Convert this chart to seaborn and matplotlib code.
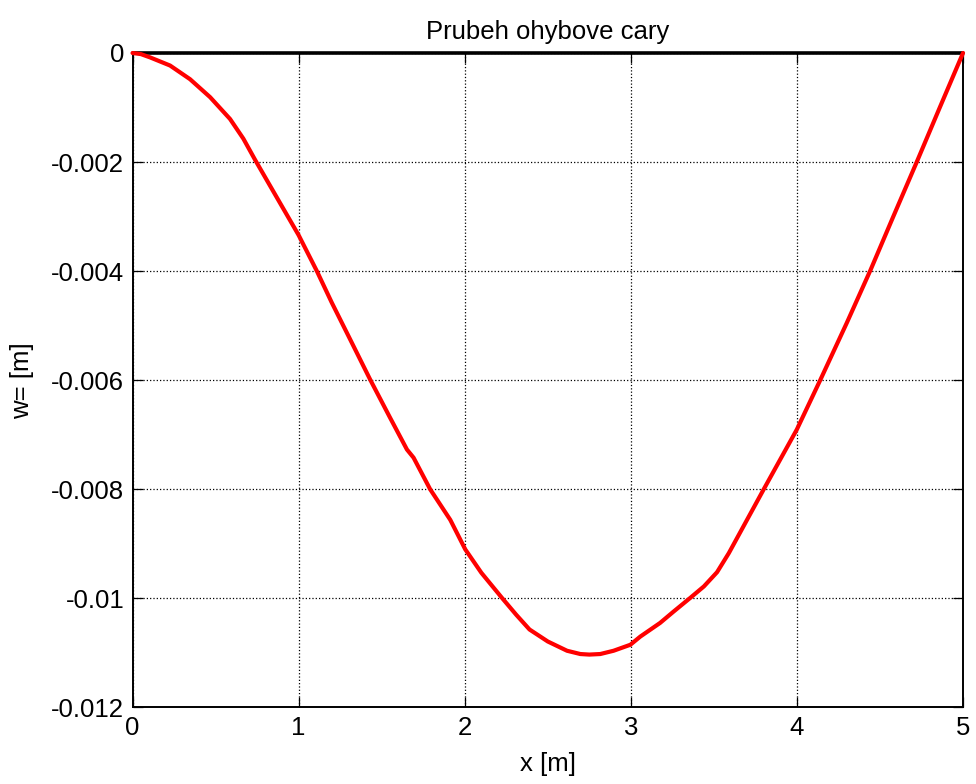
import matplotlib
matplotlib.use("Agg")
import matplotlib.pyplot as plt
import seaborn as sns
import pandas as pd

# Data
x_m = [0.0, 0.05, 0.105, 0.226, 0.346, 0.467, 0.587, 0.667, 0.738, 0.848, 1.0,
       1.11, 1.2, 1.31, 1.431, 1.551, 1.652, 1.692, 1.792, 1.913, 2.003, 2.1,
       2.224, 2.31, 2.39, 2.5, 2.616, 2.696, 2.75, 2.816, 2.896, 2.997, 3.057,
       3.176, 3.258, 3.358, 3.44, 3.519, 3.59, 3.66, 3.8, 3.9, 4.0, 4.14, 4.3,
       4.443, 4.58, 4.724, 4.86, 5.0]
w_m = [0.0, -0.00002, -0.00008, -0.00023, -0.00048, -0.00081, -0.00121, -0.00157,
       -0.00196, -0.00254, -0.00334, -0.0040, -0.00458, -0.00525, -0.00599,
       -0.00669, -0.00727, -0.00742, -0.0080, -0.00856, -0.00910, -0.00953,
       -0.00999, -0.01030, -0.01057, -0.01079, -0.01096, -0.01102, -0.01103,
       -0.01102, -0.01096, -0.01085, -0.01070, -0.01045, -0.01024, -0.00999,
       -0.00978, -0.00952, -0.00917, -0.00878, -0.0080, -0.00745, -0.0069,
       -0.0060, -0.00495, -0.00398, -0.0030, -0.00198, -0.0010, 0.0]
beam_x = [0.0, 5.0]
beam_w = [0.0, 0.0]

x_ticks = [0, 1, 2, 3, 4, 5]
y_ticks = [-0.012, -0.01, -0.008, -0.006, -0.004, -0.002, 0]
y_tick_labels = ["-0.012", "-0.01", "-0.008", "-0.006", "-0.004", "-0.002", "0"]

sns.set_style("white")
plt.rcParams['font.family'] = ['Liberation Sans', 'DejaVu Sans']

df = pd.DataFrame({"x": x_m, "w": w_m})
beam = pd.DataFrame({"x": beam_x, "w": beam_w})

fig = plt.figure(figsize=(9.76, 7.84), dpi=100)
ax = fig.add_axes([0.1358, 0.0976, 0.8509, 0.8348])

sns.lineplot(data=beam, x="x", y="w", ax=ax, color="black", linewidth=2.6,
             clip_on=False, zorder=4)
sns.lineplot(data=df, x="x", y="w", ax=ax, color="#ff0000", linewidth=3,
             clip_on=False, zorder=5)

ax.set_xlim(0, 5)
ax.set_ylim(-0.012, 0)
ax.set_xticks(x_ticks)
ax.set_xticklabels([str(t) for t in x_ticks])
ax.set_yticks(y_ticks)
ax.set_yticklabels(y_tick_labels)

ax.grid(True, color="black", linestyle=":", linewidth=0.9)
ax.set_axisbelow(True)

for s in ax.spines.values():
    s.set_visible(True)
    s.set_color("black")
    s.set_linewidth(1.4)

ax.tick_params(axis="both", direction="in", length=7, width=0.9, color="black",
               labelsize=18.5, pad=6, top=True, right=True, bottom=True, left=True,
               labelcolor="black")

ax.set_title("Prubeh ohybove cary", fontsize=18.5, pad=10, color="black")
ax.set_xlabel("x [m]", fontsize=18.5, labelpad=9, color="black")
ax.set_ylabel("w= [m]", fontsize=18.5, labelpad=12, color="black")

fig.savefig("out.png", dpi=100, facecolor="white")
